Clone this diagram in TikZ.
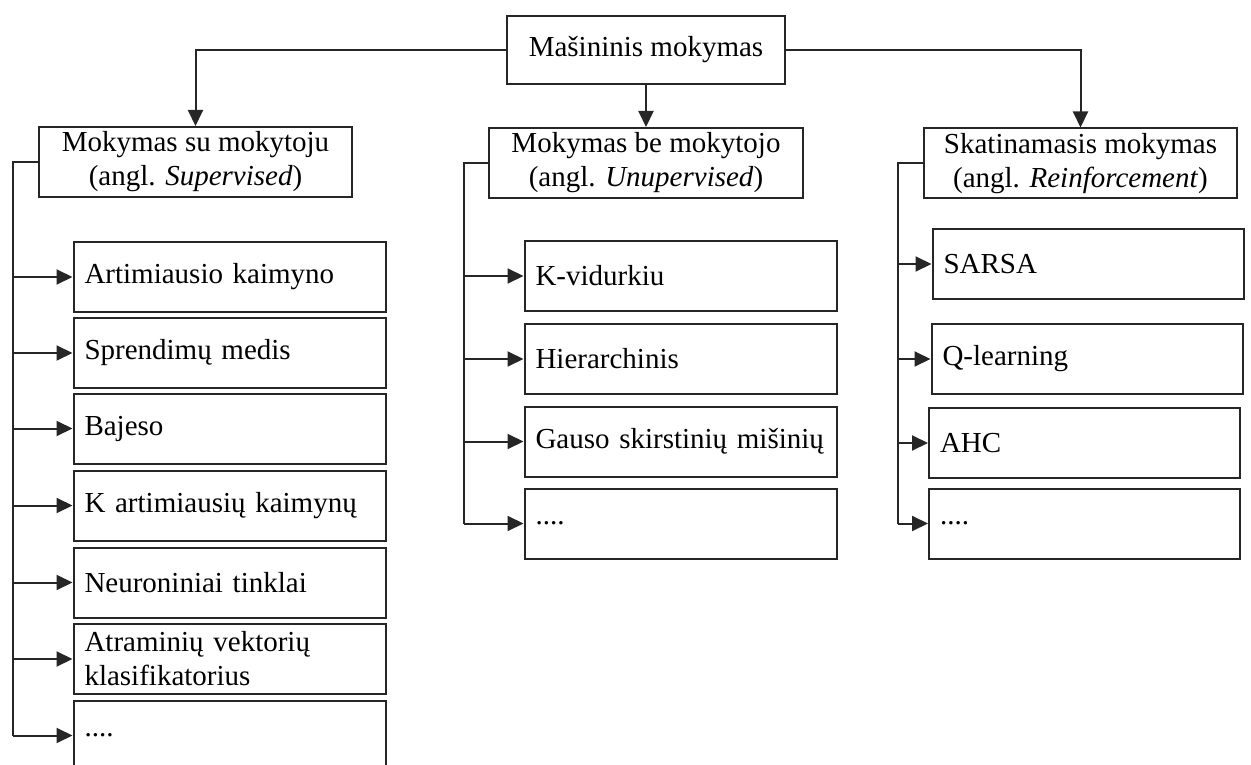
\documentclass[tikz,border=0pt]{standalone}
\usepackage{fontspec}
\setmainfont{Liberation Serif}
\usetikzlibrary{arrows.meta}
\begin{document}
\begin{tikzpicture}[x=1pt,y=-1pt,
  txt/.style={font=\fontsize{29}{34}\selectfont},
  box/.style={draw=black!85, line width=2pt, txt},
  topbox/.style={box, minimum width=278pt, minimum height=68pt, inner sep=0pt},
  head/.style={box, minimum width=313pt, minimum height=70pt, inner sep=0pt, align=center},
  leaf/.style={box, minimum height=70pt, text width=290pt, inner xsep=11pt, inner ysep=0pt, align=left},
  conn/.style={draw=black!85, line width=2pt, -{Triangle[length=16pt,width=15pt]}},
  branch/.style={draw=black!85, line width=2pt}
]
\useasboundingbox (0,0) rectangle (1251,765);

% top
\node[topbox] (top) at (646,50) {Mašininis mokymas};

% headers
\node[head] (h1) at (195.5,162) {Mokymas su mokytoju\\(angl. \textit{Supervised})};
\node[head, minimum width=314pt] (h2) at (646,163) {Mokymas be mokytojo\\(angl. \textit{Unupervised})};
\node[head] (h3) at (1080.5,163.5) {Skatinamasis mokymas\\(angl. \textit{Reinforcement})};

\draw[conn] (top.west) -| (h1.north);
\draw[conn] (top.east) -| (h3.north);
\draw[conn] (top.south) -- (h2.north);

% column 1
\node[leaf] (a1) at (229.5,277) {Artimiausio kaimyno};
\node[leaf] (a2) at (229.5,353) {Sprendimų medis};
\node[leaf] (a3) at (229.5,428.5) {Bajeso};
\node[leaf] (a4) at (229.5,505.5) {K artimiausių kaimynų};
\node[leaf] (a5) at (229.5,582.5) {Neuroniniai tinklai};
\node[leaf] (a6) at (229.5,659) {Atraminių vektorių\\klasifikatorius};
\node[leaf] (a7) at (229.5,735.5) {....};

\coordinate (b1) at (13,162);
\draw[branch] (h1.west) -- (b1) -- (b1 |- a7.west);
\foreach \n in {a1,a2,a3,a4,a5,a6,a7}
  \draw[conn] (b1 |- \n.west) -- (\n.west);

% column 2
\node[leaf] (k1) at (680.5,276) {K-vidurkiu};
\node[leaf] (k2) at (680.5,359) {Hierarchinis};
\node[leaf] (k3) at (680.5,441.5) {Gauso skirstinių mišinių};
\node[leaf] (k4) at (680.5,523.5) {....};

\coordinate (b2) at (464,163);
\draw[branch] (h2.west) -- (b2) -- (b2 |- k4.west);
\foreach \n in {k1,k2,k3,k4}
  \draw[conn] (b2 |- \n.west) -- (\n.west);

% column 3
\node[leaf, text width=289pt] (r1) at (1088,264) {SARSA};
\node[leaf, text width=289pt] (r2) at (1087,359) {Q-learning};
\node[leaf, text width=289pt] (r3) at (1084.5,443) {AHC};
\node[leaf, text width=289pt] (r4) at (1084.5,523.5) {....};

\coordinate (b3) at (898,163.5);
\draw[branch] (h3.west) -- (b3) -- (b3 |- r4.west);
\foreach \n in {r1,r2,r3,r4}
  \draw[conn] (b3 |- \n.west) -- (\n.west);
\end{tikzpicture}
\end{document}
